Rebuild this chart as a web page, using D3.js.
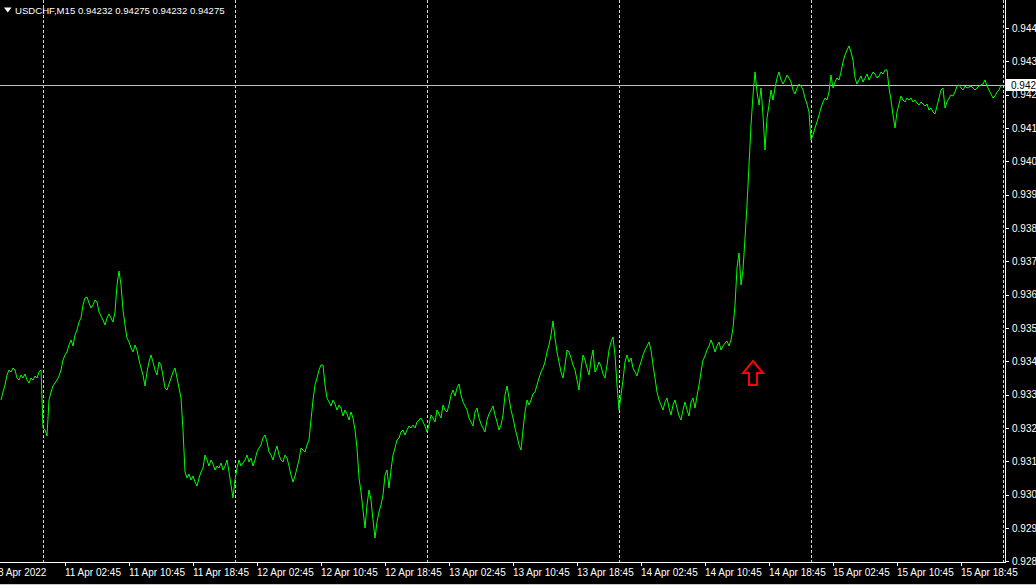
<!DOCTYPE html>
<html><head><meta charset="utf-8">
<script src="https://cdn.jsdelivr.net/npm/d3@7"></script>
<style>html,body{margin:0;padding:0;background:#000;overflow:hidden}
text{font-family:"Liberation Sans",Arial,sans-serif;}</style>
</head><body><svg id="c" width="1036" height="585"></svg>
<script>
const symbolName = "USDCHF,M15";
const ohlcValues = [0.94232, 0.94275, 0.94232, 0.94275];
const lastPrice = 0.94232;
// M15 closes, one per bar, bar 0 = first visible bar (8 Apr 2022)
const closes = [
0.93287,0.93311,0.93332,0.93362,0.93377,0.93371,0.93383,0.93377,0.93353,0.93347,
0.93362,0.93353,0.93365,0.93347,0.93338,0.93353,0.93347,0.93359,0.93353,0.93371,
0.93377,0.93203,0.93197,0.93179,0.93287,0.93311,0.93329,0.93338,0.93347,0.93359,
0.93377,0.93407,0.93422,0.93431,0.93452,0.93467,0.93449,0.93482,0.93497,0.93521,
0.93533,0.93572,0.93593,0.93596,0.93578,0.93563,0.93572,0.93587,0.93581,0.93551,
0.93539,0.93527,0.93512,0.93533,0.93545,0.93533,0.93521,0.93551,0.93632,0.93674,
0.93632,0.93557,0.93512,0.93473,0.93461,0.93443,0.93431,0.93452,0.93437,0.93407,
0.93383,0.93362,0.93329,0.93371,0.93401,0.93422,0.93401,0.93377,0.93362,0.93401,
0.93392,0.93359,0.93323,0.93317,0.93335,0.93353,0.93371,0.93383,0.93353,0.93323,
0.93293,0.93197,0.93071,0.93053,0.93065,0.93047,0.93059,0.93041,0.93029,0.93053,
0.93071,0.93083,0.93122,0.93107,0.93089,0.93107,0.93095,0.93077,0.93089,0.93083,
0.93098,0.93077,0.93089,0.93107,0.93071,0.93032,0.92993,0.93047,0.93083,0.93107,
0.93089,0.93098,0.93107,0.93122,0.93101,0.93113,0.93089,0.93107,0.93131,0.93143,
0.93152,0.93173,0.93182,0.93161,0.93131,0.93122,0.93107,0.93131,0.93149,0.93122,
0.93107,0.93101,0.93122,0.93113,0.93089,0.93062,0.93041,0.93059,0.93083,0.93107,
0.93143,0.93137,0.93131,0.93152,0.93167,0.93227,0.93287,0.93332,0.93353,0.93377,
0.93392,0.93392,0.93332,0.93293,0.93281,0.93269,0.93287,0.93275,0.93257,0.93272,
0.93263,0.93239,0.93257,0.93245,0.93227,0.93251,0.93233,0.93197,0.93143,0.93053,
0.93011,0.92957,0.92903,0.92972,0.93017,0.92987,0.92927,0.92873,0.92921,0.92951,
0.92972,0.93002,0.93062,0.93077,0.93023,0.93077,0.93122,0.93143,0.93167,0.93173,
0.93191,0.93197,0.93182,0.93197,0.93209,0.93203,0.93212,0.93203,0.93221,0.93227,
0.93233,0.93221,0.93209,0.93191,0.93212,0.93242,0.93233,0.93221,0.93257,0.93245,
0.93233,0.93272,0.93257,0.93251,0.93272,0.93302,0.93317,0.93299,0.93323,0.93335,
0.93302,0.93281,0.93269,0.93257,0.93233,0.93221,0.93209,0.93251,0.93263,0.93233,
0.93215,0.93203,0.93191,0.93227,0.93245,0.93257,0.93269,0.93242,0.93221,0.93197,
0.93212,0.93242,0.93302,0.93329,0.93293,0.93257,0.93233,0.93203,0.93179,0.93152,
0.93137,0.93197,0.93251,0.93287,0.93272,0.93287,0.93305,0.93311,0.93332,0.93353,
0.93371,0.93383,0.93401,0.93431,0.93452,0.93482,0.93524,0.93473,0.93431,0.93401,
0.93371,0.93353,0.93392,0.93437,0.93431,0.93413,0.93392,0.93377,0.93347,0.93317,
0.93377,0.93422,0.93407,0.93383,0.93362,0.93407,0.93437,0.93371,0.93383,0.93401,
0.93389,0.93365,0.93353,0.93392,0.93437,0.93461,0.93476,0.93422,0.93332,0.93257,
0.93302,0.93347,0.93401,0.93422,0.93401,0.93413,0.93383,0.93371,0.93359,0.93383,
0.93401,0.93422,0.93437,0.93449,0.93461,0.93437,0.93392,0.93353,0.93311,0.93287,
0.93272,0.93257,0.93281,0.93293,0.93263,0.93242,0.93272,0.93287,0.93263,0.93239,
0.93227,0.93257,0.93281,0.93257,0.93239,0.93281,0.93293,0.93263,0.93299,0.93332,
0.93371,0.93407,0.93419,0.93437,0.93449,0.93467,0.93452,0.93431,0.93449,0.93461,
0.93437,0.93449,0.93458,0.93464,0.93449,0.93467,0.93503,0.93572,0.93683,0.93728,
0.93632,0.93677,0.93773,0.93872,0.93992,0.94112,0.94202,0.94271,0.94211,0.94172,
0.94223,0.94142,0.94037,0.94133,0.94172,0.94217,0.94187,0.94223,0.94253,0.94271,
0.94247,0.94235,0.94247,0.94262,0.94253,0.94241,0.94217,0.94205,0.94223,0.94235,
0.94229,0.94217,0.94193,0.94175,0.94151,0.94067,0.94082,0.94103,0.94121,0.94142,
0.94163,0.94181,0.94193,0.94187,0.94211,0.94262,0.94223,0.94241,0.94253,0.94247,
0.94271,0.94301,0.94322,0.94337,0.94349,0.94331,0.94307,0.94253,0.94235,0.94247,
0.94259,0.94241,0.94253,0.94265,0.94247,0.94259,0.94271,0.94265,0.94253,0.94259,
0.94271,0.94265,0.94277,0.94277,0.94223,0.94187,0.94142,0.94103,0.94151,0.94175,
0.94199,0.94187,0.94181,0.94193,0.94187,0.94193,0.94181,0.94187,0.94178,0.94172,
0.94181,0.94175,0.94169,0.94175,0.94157,0.94163,0.94151,0.94145,0.94169,0.94193,
0.94217,0.94223,0.94163,0.94181,0.94193,0.94202,0.94199,0.94211,0.94229,0.94232,
0.94223,0.94217,0.94229,0.94223,0.94226,0.94229,0.94223,0.94217,0.94223,0.94229,
0.94232,0.94235,0.94247,0.94229,0.94217,0.94205,0.94193,0.94199,0.94211,0.94217,0.94232
];
const xTickBars = [-1.5, 32, 64, 96, 128, 160, 192, 224, 256, 288, 320, 352, 384, 416, 448, 480];
const xTickLabels = ["8 Apr 2022", "11 Apr 02:45", "11 Apr 10:45", "11 Apr 18:45", "12 Apr 02:45",
  "12 Apr 10:45", "12 Apr 18:45", "13 Apr 02:45", "13 Apr 10:45", "13 Apr 18:45", "14 Apr 02:45",
  "14 Apr 10:45", "14 Apr 18:45", "15 Apr 02:45", "15 Apr 10:45", "15 Apr 18:45"];
const daySeparatorBars = [21, 117, 213, 309, 405, 501];
const yTicks = [0.94403, 0.94303, 0.94203, 0.94103, 0.94003, 0.93903, 0.93803, 0.93703, 0.93603,
  0.93503, 0.93403, 0.93303, 0.93203, 0.93103, 0.93003, 0.92903, 0.92803];
const arrowBar = 376;
const arrowPrice = 0.93404;

const W = 1036, H = 585;
const plotRight = 1005, plotBottom = 562;
const svg = d3.select("#c");
svg.append("rect").attr("width", W).attr("height", H).attr("fill", "#000");

const x = d3.scaleLinear().domain([0, 500]).range([1, 1001]);
const y = d3.scaleLinear().domain([0.94487, 0.92732]).range([0, 585]);

// day separators
svg.append("g").selectAll("line").data(daySeparatorBars).join("line")
  .attr("x1", d => Math.round(x(d)) + 0.5).attr("x2", d => Math.round(x(d)) + 0.5)
  .attr("y1", 0).attr("y2", plotBottom)
  .attr("stroke", "#d8d8d8").attr("stroke-width", 1).attr("stroke-dasharray", "3,2")
  .attr("shape-rendering", "crispEdges");

// last price line
svg.append("line").attr("x1", 0).attr("x2", plotRight)
  .attr("y1", Math.round(y(lastPrice)) + 0.5).attr("y2", Math.round(y(lastPrice)) + 0.5)
  .attr("stroke", "#c0c0c0").attr("stroke-width", 1).attr("shape-rendering", "crispEdges");

// price line
const line = d3.line().x((d, i) => x(i)).y(d => y(d));
svg.append("path").datum(closes).attr("d", line)
  .attr("fill", "none").attr("stroke", "#00ff00").attr("stroke-width", 1)
  .attr("stroke-linejoin", "round");

// frame
svg.append("line").attr("x1", plotRight + 0.5).attr("x2", plotRight + 0.5).attr("y1", 0).attr("y2", plotBottom + 0.5)
  .attr("stroke", "#fff").attr("shape-rendering", "crispEdges");
svg.append("line").attr("x1", 0).attr("x2", plotRight + 0.5).attr("y1", plotBottom + 0.5).attr("y2", plotBottom + 0.5)
  .attr("stroke", "#fff").attr("shape-rendering", "crispEdges");
svg.append("line").attr("x1", 0).attr("x2", W).attr("y1", H - 0.5).attr("y2", H - 0.5)
  .attr("stroke", "#c8c8c8").attr("shape-rendering", "crispEdges");

// right axis
const yAxis = d3.axisRight(y).tickValues(yTicks).tickSize(4).tickPadding(3).tickFormat(d3.format(".5f"));
const gy = svg.append("g").attr("transform", `translate(${plotRight},0)`).call(yAxis);
gy.select(".domain").remove();
gy.selectAll("line").attr("stroke", "#fff").attr("shape-rendering", "crispEdges");
gy.selectAll("text").attr("fill", "#fff").attr("font-size", "10px").attr("font-family", "Liberation Sans, Arial, sans-serif");

// bottom axis
const xAxis = d3.axisBottom(x).tickValues(xTickBars).tickSize(4).tickPadding(3)
  .tickFormat((d, i) => xTickLabels[i]);
const gx = svg.append("g").attr("transform", `translate(0,${plotBottom})`).call(xAxis);
gx.select(".domain").remove();
gx.selectAll("line").attr("stroke", "#fff").attr("shape-rendering", "crispEdges");
gx.selectAll("text").attr("fill", "#fff").attr("font-size", "10px")
  .attr("font-family", "Liberation Sans, Arial, sans-serif").attr("text-anchor", "start").attr("x", -0.5);

// last price box
const ly = Math.round(y(lastPrice));
svg.append("rect").attr("x", plotRight + 1).attr("y", ly - 6).attr("width", W - plotRight).attr("height", 12).attr("fill", "#fff");
svg.append("text").attr("x", plotRight + 6).attr("y", ly + 4).attr("fill", "#000").attr("font-size", "10px")
  .text(d3.format(".5f")(lastPrice));

// header
svg.append("path").attr("d", "M4,7.5L11.5,7.5L7.75,12.5Z").attr("fill", "#fff");
svg.append("text").attr("x", 15).attr("y", 14).attr("fill", "#fff").attr("font-size", "9.6px")
  .text(symbolName + "  " + ohlcValues.map(d3.format(".5f")).join(" "));

// arrow annotation
const ax = x(arrowBar), ay = y(arrowPrice);
const arrowPts = [[0, 0], [10, 12], [4, 12], [4, 24], [-4, 24], [-4, 12], [-10, 12]];
svg.append("path").attr("d", "M" + arrowPts.map(p => [ax + p[0], ay + p[1]].join(",")).join("L") + "Z")
  .attr("fill", "#000").attr("stroke", "#ff0000").attr("stroke-width", 2).attr("stroke-linejoin", "miter");
</script></body></html>
